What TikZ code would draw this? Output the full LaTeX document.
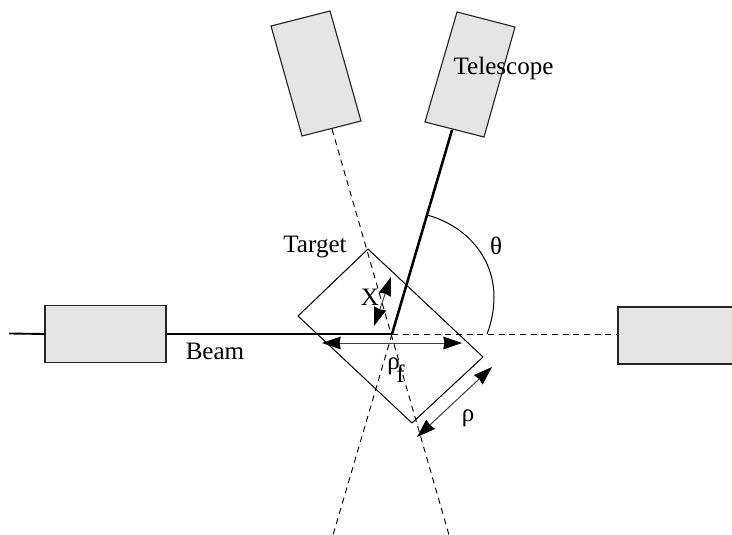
\documentclass[tikz,border=0pt]{standalone}
\usepackage{fontspec}
\setmainfont{Liberation Serif}
\usetikzlibrary{arrows.meta}
\tikzset{
  box/.style={draw=black!85,fill=black!10,line width=0.85pt,line join=miter},
  boxnode/.style={box,inner sep=0pt,outer sep=0pt},
  targetbox/.style={draw=black,line width=0.75pt},
  thin line/.style={line width=0.75pt},
  beam line/.style={line width=1.4pt},
  thick line/.style={line width=1.9pt},
  dash line/.style={line width=0.7pt,dash pattern=on 4.5pt off 3.5pt},
  dim/.style={line width=0.75pt,black!75,{Stealth[length=14pt,width=9.5pt,inset=0.8pt,black]}-{Stealth[length=14pt,width=9.5pt,inset=0.8pt,black]}},
  lab/.style={inner sep=0pt,font=\fontsize{18.8}{20}\selectfont}
}
\begin{document}
\begin{tikzpicture}[x=0.75pt,y=-0.75pt]
\useasboundingbox (0,0) rectangle (732,535);
\coordinate (v) at (392,334);
\coordinate (beamstart) at (9,333.5);
\coordinate (dl) at (333,535);
\coordinate (dr) at (449,535);
\coordinate (a1) at (322,343); \coordinate (a2) at (462,343);
\coordinate (x1) at (391,277); \coordinate (x2) at (374,326);
\coordinate (r1) at (492,367); \coordinate (r2) at (417,437);
\coordinate (arcA) at (427,215); \coordinate (arcB) at (487,334);
% detector A
\coordinate (a-nw) at (271,26); \coordinate (a-ne) at (330,11);
\coordinate (a-se) at (361,121); \coordinate (a-sw) at (302,136);
\coordinate (a-s) at (332,129);
% detector B
\coordinate (b-nw) at (457,12); \coordinate (b-ne) at (515,27);
\coordinate (b-se) at (484,137); \coordinate (b-sw) at (425,122);
\coordinate (b-s) at (452,130);
% target
\coordinate (t-n) at (368,249); \coordinate (t-w) at (298,316);
\coordinate (t-s) at (412,423); \coordinate (t-e) at (483,357);
\node[boxnode,minimum width=121*0.75pt,minimum height=57*0.75pt] (bl) at (105.5,334) {};
\node[boxnode,minimum width=130*0.75pt,minimum height=57*0.75pt] (br) at (683,335.5) {};
\draw[box] (a-nw) -- (a-ne) -- (a-se) -- (a-sw) -- cycle;
\draw[box] (b-nw) -- (b-ne) -- (b-se) -- (b-sw) -- cycle;
\draw[targetbox] (t-n) -- (t-e) -- (t-s) -- (t-w) -- cycle;
\draw[beam line] (beamstart) -- (bl.west);
\draw[beam line] (bl.east) -- (v);
\draw[thick line] (b-s) -- (v);
\draw[dash line] (v) -- (br.west |- v);
\draw[dash line] (a-s) -- (dr);
\draw[dash line] (v) -- (dl);
\draw[thin line] (arcA) .. controls (467,226) and (494,258) .. (494,297) .. controls (494,311) and (491,324) .. (arcB);
\draw[dim] (a1) -- (a2);
\draw[dim] (x1) -- (x2);
\draw[dim] (r1) -- (r2);
\node[lab] (ttele) at (503.5,68) {Telescope};
\node[lab] (ttarget) at (315,247) {Target};
\node[lab] (tbeam) at (215,351) {Beam};
\node[lab] (ttheta) at (496,246) {θ};
\node[lab] (tx) at (370,297.5) {X};
\node[lab,anchor=base west] (trhof) at (387,369) {ρ\kern-2.5pt\raisebox{-9.75pt}{f}};
\node[lab] (trho) at (468,418) {ρ};
\end{tikzpicture}
\end{document}
